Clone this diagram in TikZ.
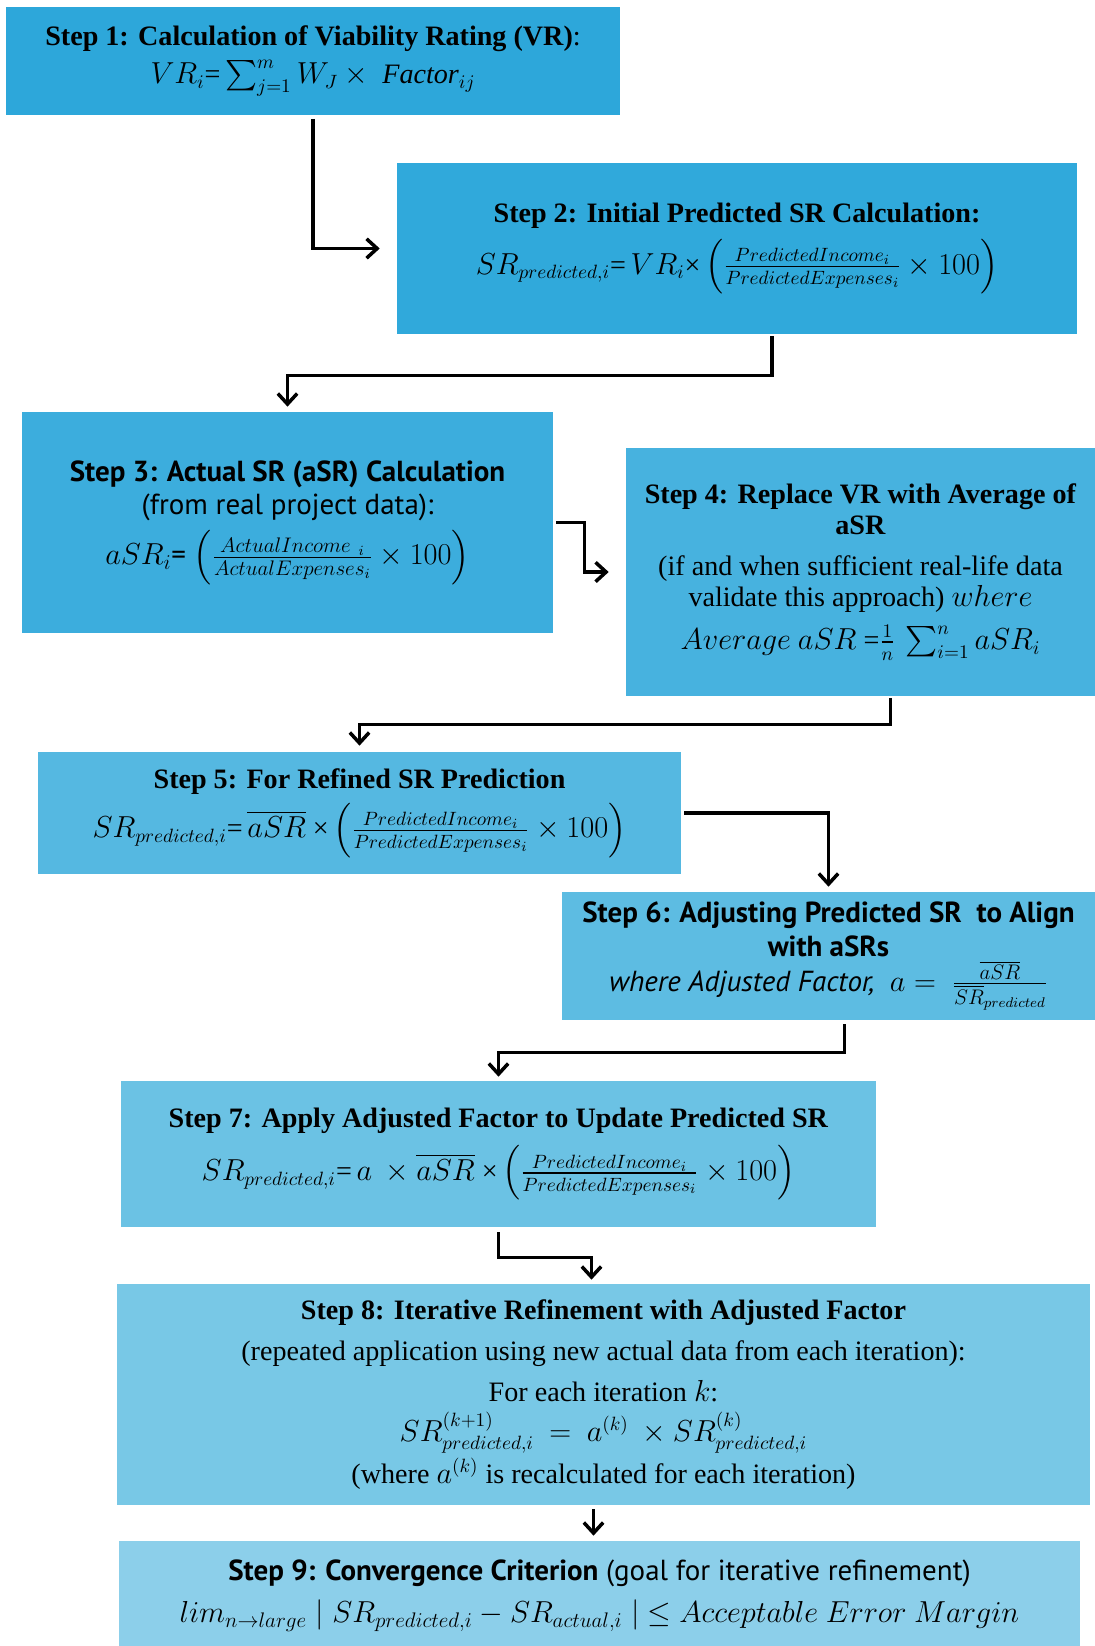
\documentclass[tikz,border=0pt]{standalone}
\usepackage{amsmath}
\usepackage{fontspec}
\setmainfont{Liberation Serif}
\setsansfont{PT Sans}
\usetikzlibrary{arrows.meta,calc}
\definecolor{stepA}{HTML}{2DA7DA}
\definecolor{stepB}{HTML}{30A9DB}
\definecolor{stepC}{HTML}{3CADDD}
\definecolor{stepD}{HTML}{47B2DF}
\definecolor{stepE}{HTML}{55B8E1}
\definecolor{stepF}{HTML}{5DBCE2}
\definecolor{stepG}{HTML}{6BC2E4}
\definecolor{stepH}{HTML}{78C8E6}
\definecolor{stepI}{HTML}{8CCFEA}
\tikzset{
	stepbox/.style={rectangle, align=center, inner sep=3pt, font=\fontsize{16}{17.5}\selectfont},
	sansbox/.style={stepbox, font=\sffamily\fontsize{16.5}{19}\selectfont},
	flow/.style={-{Straight Barb[length=6pt,width=11pt]}, line width=2pt},
}
\begin{document}
\begin{tikzpicture}[x=0.02cm, y=-0.02cm]
	\useasboundingbox (0,0) rectangle (1095,1646);
	% Step 1
	\node[stepbox, fill=stepA, minimum width=12.28cm, minimum height=2.16cm] (s1) at (313,61)
		{\textbf{Step 1: Calculation of Viability Rating (VR)}:\\[4pt]
		$VR_i$\text{=}\,$\sum_{j=1}^{m} W_J \times\ \mathit{Factor}_{ij}$};
	% Step 2
	\node[stepbox, fill=stepB, minimum width=13.6cm, minimum height=3.42cm] (s2) at (737,248.5)
		{\textbf{Step 2: Initial Predicted SR Calculation:}\\[5pt]
		$SR_{predicted,i}$\text{=}\,$VR_i$\text{\texttimes}\,$\left(\frac{PredictedIncome_i}{PredictedExpenses_i}\times 100\right)$};
	% Step 3
	\node[sansbox, fill=stepC, minimum width=10.62cm, minimum height=4.42cm] (s3) at (287.5,522.5)
		{\textbf{Step 3: Actual SR (aSR) Calculation}\\
		(from real project data):\\[4pt]
		$aSR_i$\text{=}\ $\left(\frac{ActualIncome\ _i}{ActualExpenses_i}\times 100\right)$};
	% Step 4
	\node[stepbox, fill=stepD, minimum width=9.38cm, minimum height=4.96cm] (s4) at (860.5,572)
		{\textbf{Step 4: Replace VR with Average of}\\
		\textbf{aSR}\\[6pt]
		(if and when sufficient real-life data\\
		validate this approach) $where$\\[7pt]
		$Average\ aSR$ \text{=}$\frac{1}{n}\,\sum_{i=1}^{n} aSR_i$};
	% Step 5
	\node[stepbox, fill=stepE, minimum width=12.86cm, minimum height=2.44cm] (s5) at (359.5,813)
		{\textbf{Step 5: For Refined SR Prediction}\\[4pt]
		$SR_{predicted,i}$\text{=}\,$\overline{aSR}$\ \text{\texttimes}\,$\left(\frac{PredictedIncome_i}{PredictedExpenses_i}\times 100\right)$};
	% Step 6
	\node[sansbox, fill=stepF, minimum width=10.66cm, minimum height=2.56cm] (s6) at (828.5,956)
		{\textbf{Step 6: Adjusting Predicted SR\ \ to Align}\\
		\textbf{with aSRs}\\[1pt]
		\textit{where Adjusted Factor,}\ \ $a=\ \frac{\overline{aSR}}{\overline{SR}_{predicted}}$};
	% Step 7
	\node[stepbox, fill=stepG, minimum width=15.1cm, minimum height=2.92cm] (s7) at (498.5,1154)
		{\textbf{Step 7: Apply Adjusted Factor to Update Predicted SR}\\[6pt]
		$SR_{predicted,i}$\text{=}\,$a\ \times\overline{aSR}$\ \text{\texttimes}\,$\left(\frac{PredictedIncome_i}{PredictedExpenses_i}\times 100\right)$};
	% Step 8
	\node[stepbox, fill=stepH, minimum width=19.46cm, minimum height=4.42cm] (s8) at (603.5,1394.5)
		{\textbf{Step 8: Iterative Refinement with Adjusted Factor}\\[6pt]
		(repeated application using new actual data from each iteration):\\[6pt]
		For each iteration $k$:\\[5pt]
		$SR^{(k+1)}_{predicted,i}\ =\ a^{(k)}\ \times SR^{(k)}_{predicted,i}$\\[2pt]
		(where $a^{(k)}$ is recalculated for each iteration)};
	% Step 9
	\node[sansbox, fill=stepI, minimum width=19.22cm, minimum height=2.18cm] (s9) at (599.5,1595.5)
		{\textbf{Step 9: Convergence Criterion} (goal for iterative refinement)\\[5pt]
		$lim_{n\rightarrow large}\mid SR_{predicted,i}-SR_{actual,i}\mid\ \leq Acceptable\ Error\ Margin$};
	% Arrows
	\draw[flow, shorten <=2pt] (s1.south) |- ($(s2.west)+(-17,0)$);
	\draw[flow] ($(s2.south)+(35,2)$) -- ++(0,39) -| ($(s3.north)+(0,-5)$);
	\draw[flow] ($(s3.east)+(3,0)$) -- ++(28,0) |- ($(s4.west)+(-17,0)$);
	\draw[flow] ($(s4.south)+(30,2)$) -- ++(0,26) -| ($(s5.north)+(0,-6)$);
	\draw[flow] ($(s5.east)+(3,0)$) -| ($(s6.north)+(0,-5)$);
	\draw[flow] ($(s6.south)+(16,4)$) -- ++(0,28) -| ($(s7.north)+(0,-4)$);
	\draw[flow] ($(s7.south)+(0,5)$) -- ++(0,25) -| ($(s8.north)+(-12,-4)$);
	\draw[flow] ($(s8.south)+(-10,4)$) coordinate (a8) -- ($(a8 |- s9.north)+(0,-5)$);
\end{tikzpicture}
\end{document}
